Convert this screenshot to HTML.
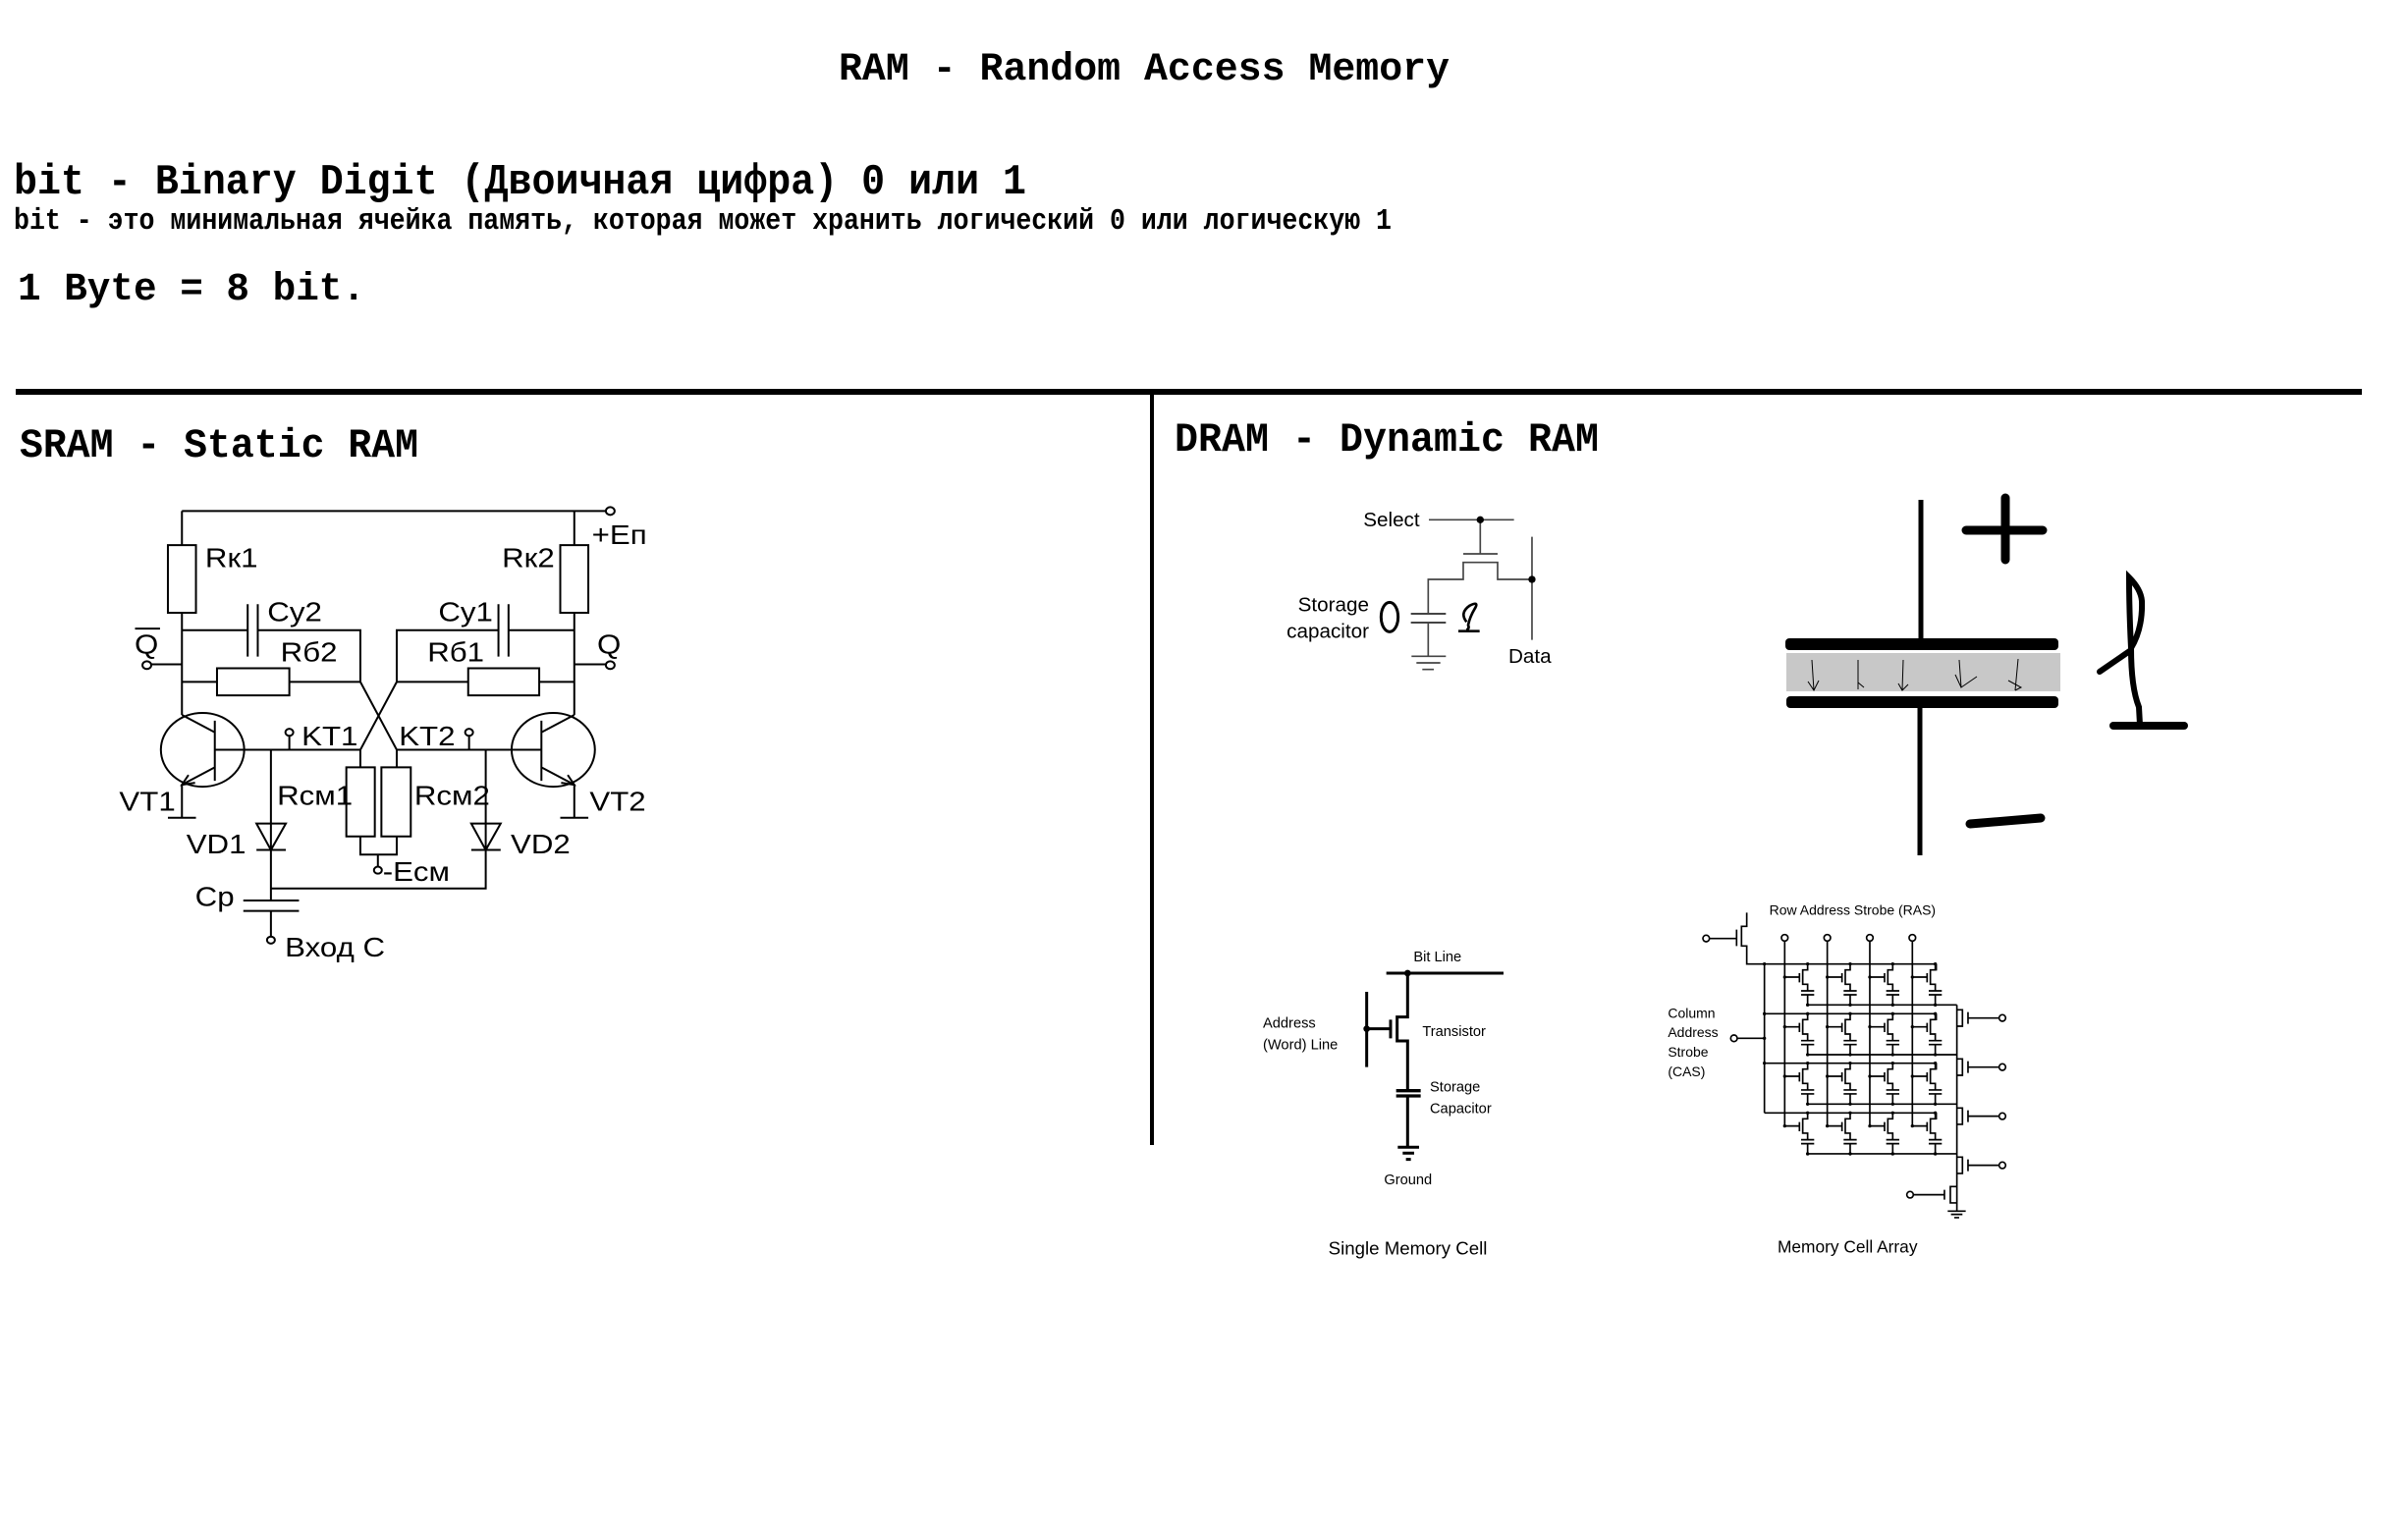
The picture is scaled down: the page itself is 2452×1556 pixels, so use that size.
<!DOCTYPE html>
<html><head><meta charset="utf-8"><style>
html,body{margin:0;padding:0;background:#fff;}
svg{display:block;}
.m{font-family:"Liberation Mono","DejaVu Sans Mono",monospace;font-weight:bold;fill:#000;}
.a{font-family:"Liberation Sans",Arial,sans-serif;fill:#000;}
</style></head><body>
<svg width="2452" height="1556" viewBox="0 0 2452 1556" xmlns="http://www.w3.org/2000/svg" xmlns:xlink="http://www.w3.org/1999/xlink">
<defs>
 <g id="cell" fill="none" stroke="#000" stroke-width="5">
  <path d="M0,0 V18 H-15 V62 H0 V80 M-25,28 V56 M-70,40 H-25 M-20,82 H20 M-20,94 H20 M0,94 V125"/>
  <circle cx="0" cy="0" r="5" fill="#000" stroke="none"/>
  <circle cx="0" cy="125" r="5" fill="#000" stroke="none"/>
  <circle cx="-70" cy="40" r="5" fill="#000" stroke="none"/>
 </g>
 <g id="sw" fill="none" stroke="#000" stroke-width="5">
  <path d="M0,-25 H17 V25 H0 M34,-18 V18 M34,0 H127"/>
  <circle cx="139" cy="0" r="10" fill="#fff"/>
 </g>
</defs>
<rect width="2452" height="1556" fill="#fff"/>
<text class="m" x="854" y="81" font-size="40" textLength="622" lengthAdjust="spacingAndGlyphs">RAM - Random Access Memory</text>
<text class="m" x="14" y="197" font-size="44" textLength="1031" lengthAdjust="spacingAndGlyphs">bit - Binary Digit (Двоичная цифра) 0 или 1</text>
<text class="m" x="14" y="233" font-size="31" textLength="1403" lengthAdjust="spacingAndGlyphs">bit - это минимальная ячейка память, которая может хранить логический 0 или логическую 1</text>
<text class="m" x="18" y="305" font-size="40" textLength="354" lengthAdjust="spacingAndGlyphs">1 Byte = 8 bit.</text>
<line x1="16" y1="399" x2="2405" y2="399" stroke="#000" stroke-width="6"/>
<line x1="1173" y1="399" x2="1173" y2="1166" stroke="#000" stroke-width="4"/>
<text class="m" x="20" y="465" font-size="42" textLength="406" lengthAdjust="spacingAndGlyphs">SRAM - Static RAM</text>
<text class="m" x="1196" y="459" font-size="42" textLength="432" lengthAdjust="spacingAndGlyphs">DRAM - Dynamic RAM</text>

<!-- SRAM circuit -->
<g transform="translate(0,380) scale(0.4464,0.3954)" fill="none" stroke="#000">
 <g stroke-width="2">
 <path vector-effect="non-scaling-stroke" d="M415,355 H1382 M415,355 V443 M415,617 V880 M1310,355 V443 M1310,617 V880"/>
 <rect vector-effect="non-scaling-stroke" x="383" y="443" width="64" height="174"/>
 <rect vector-effect="non-scaling-stroke" x="1278" y="443" width="64" height="174"/>
 <circle vector-effect="non-scaling-stroke" cx="1392" cy="355" r="10"/>
 <path vector-effect="non-scaling-stroke" d="M415,662 H565 M588,662 H822 V795 M565,595 V730 M588,595 V730"/>
 <path vector-effect="non-scaling-stroke" d="M415,795 H495 M660,795 H822"/>
 <rect vector-effect="non-scaling-stroke" x="495" y="760" width="165" height="70"/>
 <circle vector-effect="non-scaling-stroke" cx="335" cy="752" r="10"/>
 <path vector-effect="non-scaling-stroke" d="M345,750 H415 M308,658 H365"/>
 <path vector-effect="non-scaling-stroke" d="M1310,662 H1160 M1137,662 H905 V795 M1137,595 V730 M1160,595 V730"/>
 <path vector-effect="non-scaling-stroke" d="M905,795 H1068 M1230,795 H1310"/>
 <rect vector-effect="non-scaling-stroke" x="1068" y="760" width="162" height="70"/>
 <circle vector-effect="non-scaling-stroke" cx="1392" cy="752" r="10"/>
 <path vector-effect="non-scaling-stroke" d="M1310,750 H1382"/>
 <path vector-effect="non-scaling-stroke" d="M822,795 L905,970 M905,795 L822,970"/>
 <circle vector-effect="non-scaling-stroke" cx="462" cy="970" r="95"/>
 <path vector-effect="non-scaling-stroke" d="M490,895 V1050 M490,970 H822 M415,880 L490,925 M490,1015 L415,1060 V1145 M383,1145 H447 M430,1035 L415,1060 L445,1055"/>
 <circle vector-effect="non-scaling-stroke" cx="1262" cy="970" r="95"/>
 <path vector-effect="non-scaling-stroke" d="M1235,895 V1050 M905,970 H1235 M1310,880 L1235,925 M1235,1015 L1310,1060 V1145 M1278,1145 H1342 M1280,1055 L1310,1060 L1295,1035"/>
 <circle vector-effect="non-scaling-stroke" cx="660" cy="925" r="9"/>
 <path vector-effect="non-scaling-stroke" d="M660,934 V970 M1070,934 V970"/>
 <circle vector-effect="non-scaling-stroke" cx="1070" cy="925" r="9"/>
 <path vector-effect="non-scaling-stroke" d="M822,970 V1015 M905,970 V1015 M822,1193 V1240 H905 V1193 M862,1240 V1270"/>
 <rect vector-effect="non-scaling-stroke" x="790" y="1015" width="65" height="178"/>
 <rect vector-effect="non-scaling-stroke" x="870" y="1015" width="67" height="178"/>
 <circle vector-effect="non-scaling-stroke" cx="862" cy="1280" r="9"/>
 <path vector-effect="non-scaling-stroke" d="M618,970 V1358 M618,1327 H1108 V970 M585,1160 H652 L618,1228 Z M585,1228 H652 M1075,1160 H1142 L1108,1228 Z M1075,1228 H1142"/>
 <path vector-effect="non-scaling-stroke" d="M555,1358 H682 M555,1385 H682 M618,1385 V1450"/>
 <circle vector-effect="non-scaling-stroke" cx="618" cy="1460" r="9"/>
 </g>
 <g class="a" stroke="none" fill="#000" font-size="70">
 <text x="468" y="500">Rк1</text>
 <text x="1145" y="500">Rк2</text>
 <text x="1350" y="440">+Еп</text>
 <text x="610" y="638">Cy2</text>
 <text x="1000" y="638">Cy1</text>
 <text x="640" y="742">Rб2</text>
 <text x="975" y="742">Rб1</text>
 <text x="307" y="722">Q</text>
 <text x="1362" y="722">Q</text>
 <text x="688" y="958">KT1</text>
 <text x="910" y="958">KT2</text>
 <text x="632" y="1112">Rсм1</text>
 <text x="945" y="1112">Rсм2</text>
 <text x="272" y="1127">VT1</text>
 <text x="1345" y="1127">VT2</text>
 <text x="425" y="1237">VD1</text>
 <text x="1165" y="1237">VD2</text>
 <text x="873" y="1307">-Eсм</text>
 <text x="445" y="1372">Cp</text>
 <text x="650" y="1502">Вход С</text>
 </g>
</g>

<!-- DRAM small schematic -->
<g transform="translate(1280,500) scale(0.3333)" fill="none" stroke="#444" stroke-width="5">
 <path d="M525,88 H785 M682,88 V192 M630,192 H735 M523,375 V270 H630 V218 H735 V270 H840 M840,140 V455 M523,402 V505 M472,505 H577 M487,525 H560 M505,545 H540"/>
 <path d="M470,375 H577 M470,402 H577" stroke-width="6"/>
 <circle cx="682" cy="88" r="11" fill="#000" stroke="none"/>
 <circle cx="840" cy="270" r="11" fill="#000" stroke="none"/>
 <ellipse cx="405" cy="385" rx="26" ry="45" stroke="#000" stroke-width="9"/>
 <path d="M640,400 Q618,372 650,350 Q680,335 665,360 Q650,385 645,410 Q650,420 640,425 M615,428 H680" stroke="#000" stroke-width="8"/>
 <g class="a" stroke="none" fill="#111" font-size="62">
 <text x="497" y="108" text-anchor="end">Select</text>
 <text x="342" y="367" text-anchor="end">Storage</text>
 <text x="342" y="448" text-anchor="end">capacitor</text>
 <text x="768" y="525">Data</text>
 </g>
</g>

<!-- DRAM capacitor drawing -->
<g fill="none" stroke="#000">
 <line x1="1956" y1="509" x2="1956" y2="652" stroke-width="5"/>
 <line x1="1955" y1="720" x2="1955" y2="871" stroke-width="5"/>
 <rect x="1818" y="650" width="278" height="12" rx="4" fill="#000" stroke="none"/>
 <rect x="1819" y="665" width="279" height="39" fill="#c8c8c8" stroke="none"/>
 <rect x="1819" y="709" width="277" height="12" rx="4" fill="#000" stroke="none"/>
 <g stroke-width="1">
 <path d="M1845,672 L1847,703 M1841,694 L1847,703 L1852,693"/>
 <path d="M1892,672 V702 M1892,695 L1898,700"/>
 <path d="M1938,672 L1937,703 M1933,696 L1937,703 L1943,697"/>
 <path d="M1995,672 L1997,700 L2013,689 M1991,687 L1997,700"/>
 <path d="M2055,671 L2052,703 M2045,693 L2058,700 L2052,703"/>
 </g>
 <path d="M2002,540 H2080 M2042,507 V570" stroke-width="9" stroke-linecap="round"/>
 <path d="M2006,839 L2078,833" stroke-width="9" stroke-linecap="round"/>
 <path d="M2168,588 Q2180,600 2181,612 Q2182,640 2170,660 Q2168,620 2168,588 Z M2170,660 Q2170,700 2178,720 L2179,738 M2138,684 L2170,662" stroke-width="6" stroke-linecap="round"/>
 <path d="M2152,739 H2224" stroke-width="8" stroke-linecap="round"/>
</g>

<!-- Single memory cell -->
<g transform="translate(1280,940) scale(0.3333)" fill="none" stroke="#000" stroke-width="9">
 <path d="M395,153 H753 M460,153 V287 H428 V360 H460 V510 M408,295 V352 M335,210 V440 M335,323 H408"/>
 <path d="M425,512 H500 M425,528 H500" stroke-width="10"/>
 <path d="M460,528 V685 M430,685 H495 M445,703 H480 M455,722 H470"/>
 <circle cx="460" cy="153" r="10" fill="#000" stroke="none"/>
 <circle cx="335" cy="323" r="10" fill="#000" stroke="none"/>
 <g class="a" stroke="none" fill="#222" font-size="44">
 <text x="478" y="117">Bit Line</text>
 <text x="505" y="345">Transistor</text>
 <text x="528" y="515">Storage</text>
 <text x="528" y="580">Capacitor</text>
 <text x="18" y="320">Address</text>
 <text x="18" y="385">(Word) Line</text>
 <text x="388" y="798">Ground</text>
 <text x="218" y="1012" font-size="56">Single Memory Cell</text>
 </g>
</g>

<!-- Memory Cell Array -->
<g transform="translate(1700,900) scale(0.3333)" fill="none" stroke="#000" stroke-width="5">
 <path d="M236,88 V130 H220 V190 H236 V245 H815 M205,140 V190 M122,167 H205 M290,245 V700 M207,472 H290"/>
 <circle cx="112" cy="167" r="10" fill="#fff"/>
 <circle cx="197" cy="472" r="10" fill="#fff"/>
 <path d="M290,397 H815 M290,548 H815 M290,700 H815 M815,245 V265 M815,397 V417 M815,548 V568 M815,700 V720"/>
 <circle cx="290" cy="245" r="5" fill="#000" stroke="none"/>
 <circle cx="290" cy="397" r="5" fill="#000" stroke="none"/>
 <circle cx="290" cy="472" r="5" fill="#000" stroke="none"/>
 <circle cx="290" cy="548" r="5" fill="#000" stroke="none"/>
 <path d="M352,175 V740 M482,175 V740 M612,175 V740 M742,175 V740"/>
 <circle cx="352" cy="165" r="10" fill="#fff"/>
 <circle cx="482" cy="165" r="10" fill="#fff"/>
 <circle cx="612" cy="165" r="10" fill="#fff"/>
 <circle cx="742" cy="165" r="10" fill="#fff"/>
 <path d="M422,370 H878 M422,522 H878 M422,673 H878 M422,825 H878"/>
 <path d="M878,370 V1000 M850,1000 H905 M860,1010 H895 M870,1020 H885 M840,935 V965 M745,950 H840 M878,925 H858 V975 H878"/>
 <circle cx="735" cy="950" r="10" fill="#fff"/>
 <use xlink:href="#sw" href="#sw" x="878" y="410"/>
 <use xlink:href="#sw" href="#sw" x="878" y="560"/>
 <use xlink:href="#sw" href="#sw" x="878" y="710"/>
 <use xlink:href="#sw" href="#sw" x="878" y="860"/>
 <use xlink:href="#cell" href="#cell" x="422" y="245"/>
 <use xlink:href="#cell" href="#cell" x="552" y="245"/>
 <use xlink:href="#cell" href="#cell" x="682" y="245"/>
 <use xlink:href="#cell" href="#cell" x="812" y="245"/>
 <use xlink:href="#cell" href="#cell" x="422" y="397"/>
 <use xlink:href="#cell" href="#cell" x="552" y="397"/>
 <use xlink:href="#cell" href="#cell" x="682" y="397"/>
 <use xlink:href="#cell" href="#cell" x="812" y="397"/>
 <use xlink:href="#cell" href="#cell" x="422" y="548"/>
 <use xlink:href="#cell" href="#cell" x="552" y="548"/>
 <use xlink:href="#cell" href="#cell" x="682" y="548"/>
 <use xlink:href="#cell" href="#cell" x="812" y="548"/>
 <use xlink:href="#cell" href="#cell" x="422" y="700"/>
 <use xlink:href="#cell" href="#cell" x="552" y="700"/>
 <use xlink:href="#cell" href="#cell" x="682" y="700"/>
 <use xlink:href="#cell" href="#cell" x="812" y="700"/>
 <g class="a" stroke="none" fill="#222" font-size="42">
 <text x="-5" y="410">Column</text>
 <text x="-5" y="468">Address</text>
 <text x="-5" y="528">Strobe</text>
 <text x="-5" y="588">(CAS)</text>
 <text x="305" y="95">Row Address Strobe (RAS)</text>
 <text x="330" y="1127" font-size="52">Memory Cell Array</text>
 </g>
</g>
</svg>
</body></html>
